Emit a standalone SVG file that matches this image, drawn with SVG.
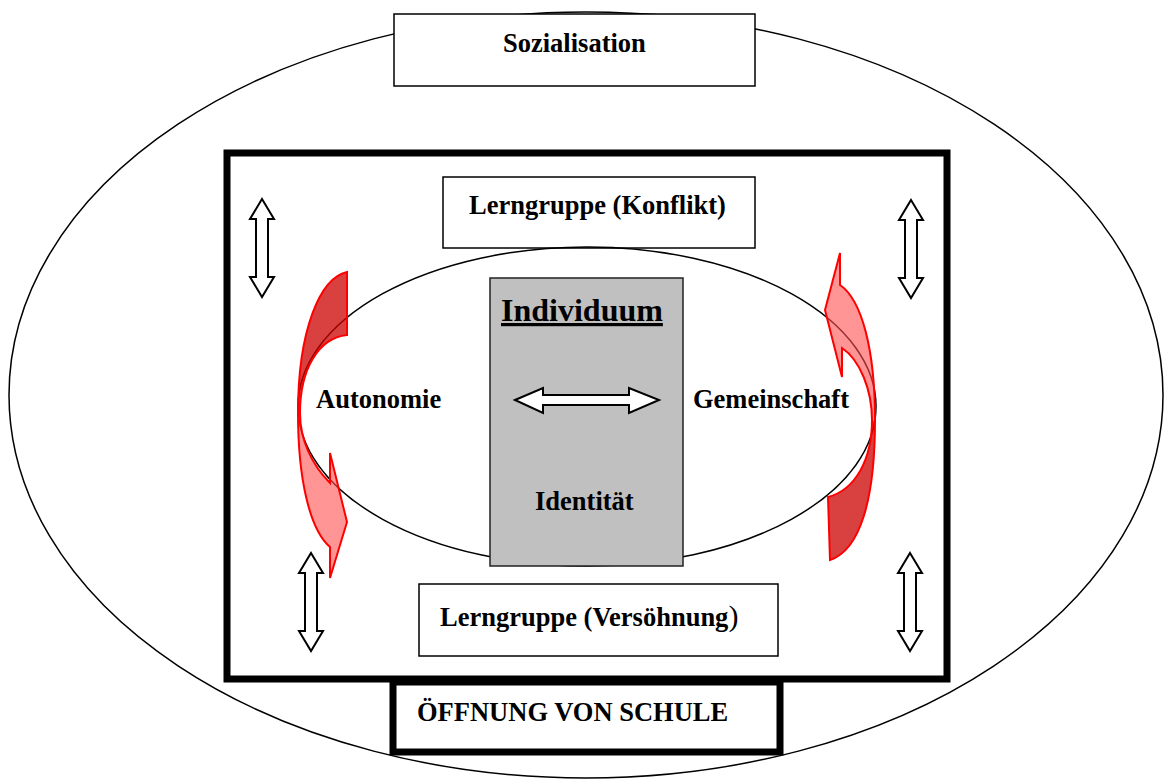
<svg xmlns="http://www.w3.org/2000/svg" width="1169" height="779" viewBox="0 0 1169 779">
<style>
.t{font-family:"Liberation Serif","Times New Roman",serif;font-weight:bold;font-size:26.5px;fill:#000}
.box{fill:#fff;stroke:#000;stroke-width:1.5}
.thick{fill:#fff;stroke:#000;stroke-width:7}
.dbl{fill:#fff;stroke:#000;stroke-width:2;stroke-linejoin:miter}
.red{stroke:#ff0000;stroke-width:2;stroke-linejoin:miter}
</style>
<defs>
<polygon id="varrow" class="dbl" points="0,0 12,20 6,20 6,78 12,78 0,98 -12,78 -6,78 -6,20 -12,20"/>
<linearGradient id="gl" gradientUnits="userSpaceOnUse" x1="0" y1="413" x2="0" y2="414">
<stop offset="0" stop-color="#cc0000" stop-opacity="0.75"/>
<stop offset="1" stop-color="#ff4d4d" stop-opacity="0.6"/>
</linearGradient>
<linearGradient id="gr" gradientUnits="userSpaceOnUse" x1="0" y1="420" x2="0" y2="421">
<stop offset="0" stop-color="#ff4d4d" stop-opacity="0.6"/>
<stop offset="1" stop-color="#cc0000" stop-opacity="0.75"/>
</linearGradient>
</defs>
<rect width="1169" height="779" fill="#fff"/>
<g id="sozialisation-ellipse">
<ellipse cx="586" cy="395" rx="577" ry="383" fill="#fff" stroke="#000" stroke-width="1.5"/>
</g>
<g id="sozialisation">
<rect class="box" x="394" y="14" width="361" height="72"/>
<text class="t" x="503" y="52">Sozialisation</text>
</g>
<g id="schule-frame">
<rect class="thick" x="227" y="153" width="720" height="526"/>
</g>
<g id="oeffnung">
<rect class="thick" x="393" y="682" width="387" height="70"/>
<text class="t" x="417" y="721">ÖFFNUNG VON SCHULE</text>
</g>
<g id="lerngruppe-konflikt">
<rect class="box" x="443" y="177" width="312" height="71"/>
<text class="t" x="469" y="214">Lerngruppe (Konflikt)</text>
</g>
<g id="inner-ellipse">
<ellipse cx="587" cy="406.5" rx="289" ry="159.5" fill="none" stroke="#000" stroke-width="1.5"/>
</g>
<g id="individuum">
<rect x="490" y="278" width="193" height="288" fill="#c0c0c0" stroke="#222" stroke-width="1.5"/>
<text class="t" x="501" y="321" font-size="32" text-decoration="underline" style="font-size:32px">Individuum</text>
<text class="t" x="535" y="510">Identität</text>
</g>
<g id="autonomie">
<text class="t" x="316" y="408">Autonomie</text>
</g>
<g id="gemeinschaft">
<text class="t" x="693" y="408">Gemeinschaft</text>
</g>
<g id="lerngruppe-versoehnung">
<rect class="box" x="419" y="584" width="359" height="72"/>
<text class="t" x="440" y="626">Lerngruppe (Versöhnung<tspan style="font-weight:normal;font-size:30px">)</tspan></text>
</g>
<g id="connectors">
<path class="red" fill="url(#gl)" d="M347,272 C320,278 298,330 298,413 C298,480 310,530 330,547 L330,578 L347,522 L330,453 L330,483 C312,465 300,440 300,413 C300,370 318,338 347,335 Z"/>
<path class="red" fill="url(#gr)" d="M840,253 L840,285 C862,300 875,350 875,420 C875,500 860,550 830,560 L828,497 C855,490 872,460 872,420 C872,390 860,360 842,348 L842,377 L825,310 Z"/>
<polygon class="dbl" points="515,400 543,388 543,395 629,395 629,388 659,400 629,413 629,405 543,405 543,413"/>
<use href="#varrow" x="262" y="199"/>
<use href="#varrow" x="911" y="200"/>
<use href="#varrow" x="311" y="553"/>
<use href="#varrow" x="910" y="553"/>
</g>
</svg>
